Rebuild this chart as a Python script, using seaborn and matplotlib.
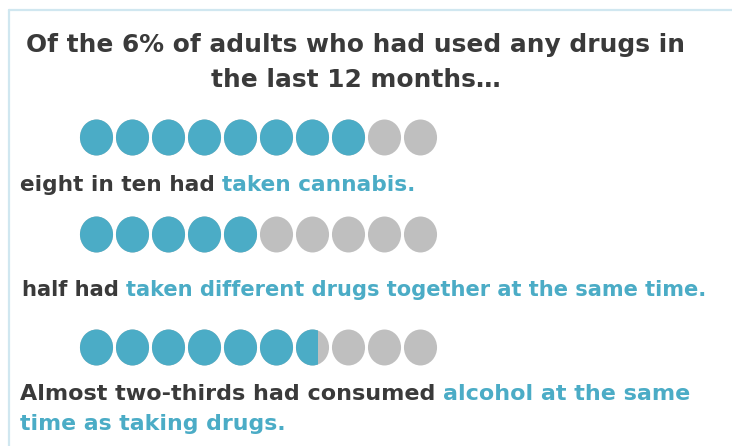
import numpy as np
import pandas as pd
import matplotlib
matplotlib.use("Agg")
import matplotlib.pyplot as plt
from matplotlib.path import Path
from matplotlib.transforms import Affine2D
from matplotlib.patches import Rectangle
from matplotlib.lines import Line2D
import seaborn as sns

# ---- data -------------------------------------------------------------
title_lines = ["Of the 6% of adults who had used any drugs in",
               "the last 12 months\u2026"]
row_values = [8.0, 5.0, 6.62]          # out of ten people
n_dots = 10
row_lead = ["eight in ten had ", "half had ", "Almost two-thirds had consumed "]
row_tail = ["taken cannabis.",
            "taken different drugs together at the same time.",
            "alcohol at the same"]
row3_second_line = "time as taking drugs."

# ---- style ------------------------------------------------------------
BLUE = "#4BACC6"
GREY = "#BFBFBF"
DARK = "#3A3A3A"
BORDER = "#D0E7F0"

sns.set_theme(style="white")
plt.rcParams["font.family"] = ["DejaVu Sans"]

W, H = 732, 446
fig = plt.figure(figsize=(W / 100, H / 100), dpi=100)
fig.patch.set_facecolor("white")


def fx(px):
    return px / W


def fy(py):
    return 1 - py / H


# panel border (left and top edges only)
fig.add_artist(Line2D([fx(8.5), fx(8.5)], [fy(9.5), 0], color=BORDER, lw=1.6))
fig.add_artist(Line2D([fx(8.5), 1], [fy(9.5), fy(9.5)], color=BORDER, lw=1.6))

# title
for line, ypix in zip(title_lines, [45, 80]):
    fig.text(fx(356), fy(ypix), line, ha="center", va="center",
             fontsize=17.9, fontweight="bold", color=DARK)

# slightly tall oval marker for the people icons
oval = Path.unit_circle().transformed(Affine2D().scale(0.92, 1.0))

row_centers = [137, 233.5, 346.5]
dot_left, dot_step = 78.3, 36.0

for value, yc in zip(row_values, row_centers):
    ax = fig.add_axes([fx(dot_left), fy(yc + 20), fx(dot_step * n_dots), 40 / H])
    df = pd.DataFrame({"pos": np.arange(n_dots), "row": 0})
    # every person in grey, then the share in blue on top
    sns.scatterplot(data=df, x="pos", y="row", ax=ax, color=GREY,
                    marker=oval, s=670, linewidth=0, legend=False)
    sns.scatterplot(data=df[df["pos"] < np.ceil(value)], x="pos", y="row",
                    ax=ax, color=BLUE, marker=oval, s=670, linewidth=0,
                    legend=False)
    blue_coll = ax.collections[-1]
    clip = Rectangle((-0.5, -1), value, 2, transform=ax.transData,
                     facecolor="none", edgecolor="none")
    ax.add_patch(clip)
    blue_coll.set_clip_path(clip)
    ax.set_xlim(-0.5, n_dots - 0.5)
    ax.set_ylim(-0.5, 0.5)
    ax.axis("off")

# captions: dark lead-in followed by blue highlight
caption_pos = [(20, 185), (22, 290), (20, 394)]
caption_size = [15.55, 15.15, 16.0]
renderer = fig.canvas.get_renderer()
for lead, tail, (xp, yp), fs in zip(row_lead, row_tail, caption_pos, caption_size):
    t1 = fig.text(fx(xp), fy(yp), lead, ha="left", va="center",
                  fontsize=fs, fontweight="bold", color=DARK)
    bb = t1.get_window_extent(renderer=renderer)
    fig.text(bb.x1 / W, fy(yp), tail, ha="left", va="center", fontsize=fs,
             fontweight="bold", color=BLUE)

fig.text(fx(20), fy(424), row3_second_line, ha="left", va="center",
         fontsize=15.8, fontweight="bold", color=BLUE)

fig.savefig("out.png", dpi=100, facecolor="white")
